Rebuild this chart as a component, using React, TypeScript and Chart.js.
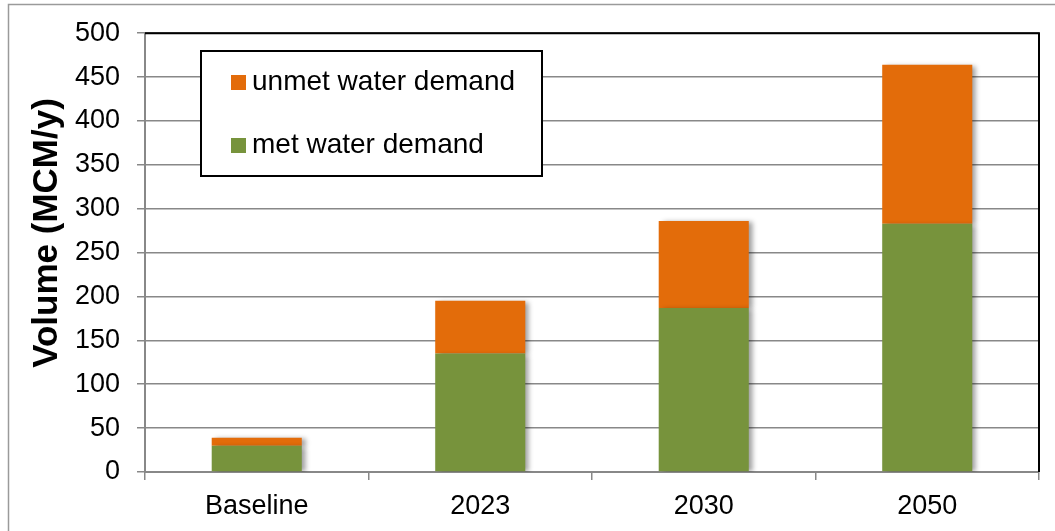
import React, { useEffect, useRef } from "react";
import { Chart, registerables } from "chart.js";

Chart.register(...registerables);

const categories = ["Baseline", "2023", "2030", "2050"];
const metDemand = [30, 135, 187, 283];
const unmetDemand = [9, 60, 99, 181];
const seriesNames = ["unmet water demand", "met water demand"];
const yAxisTitle = "Volume (MCM/y)";
const yTicksMax = 500;
const yTicksStep = 50;

const ORANGE = "#E36C0A";
const GREEN = "#77933C";
const GRID = "#888888";
const FONT = "'Liberation Sans', Arial, sans-serif";

const decorPlugin = {
  id: "decor",
  beforeDatasetsDraw(chart: any) {
    const ctx = chart.ctx;
    ctx.save();
    ctx.shadowColor = "rgba(0,0,0,0.38)";
    ctx.shadowBlur = 5;
    ctx.shadowOffsetX = 4;
    ctx.shadowOffsetY = 1;
  },
  afterDatasetsDraw(chart: any) {
    const ctx = chart.ctx;
    ctx.restore();
    const a = chart.chartArea;
    ctx.save();
    // black top/right frame of plot area
    ctx.strokeStyle = "#000";
    ctx.lineWidth = 2;
    ctx.beginPath();
    ctx.moveTo(a.left, a.top);
    ctx.lineTo(a.right, a.top);
    ctx.lineTo(a.right, a.bottom);
    ctx.stroke();
    // outer chart frame (top and left edges visible)
    ctx.strokeStyle = "#9a9a9a";
    ctx.lineWidth = 1.5;
    ctx.beginPath();
    ctx.moveTo(8.5, 531);
    ctx.lineTo(8.5, 4.5);
    ctx.lineTo(1055, 4.5);
    ctx.stroke();
    // y axis title
    ctx.save();
    ctx.translate(47, 233);
    ctx.rotate(-Math.PI / 2);
    ctx.font = `bold 35px ${FONT}`;
    ctx.fillStyle = "#000";
    ctx.textAlign = "center";
    ctx.textBaseline = "middle";
    ctx.fillText(yAxisTitle, 0, 0);
    ctx.restore();
    // legend box
    const lx = 201, ly = 51, lw = 341, lh = 125;
    ctx.fillStyle = "#fff";
    ctx.fillRect(lx, ly, lw, lh);
    ctx.strokeStyle = "#000";
    ctx.lineWidth = 2;
    ctx.strokeRect(lx, ly, lw, lh);
    const items = [
      { text: seriesNames[0], color: ORANGE, y: 90 },
      { text: seriesNames[1], color: GREEN, y: 153 },
    ];
    ctx.font = `28px ${FONT}`;
    ctx.textBaseline = "alphabetic";
    ctx.textAlign = "left";
    for (const it of items) {
      ctx.fillStyle = it.color;
      ctx.fillRect(231, it.y - 15, 15, 15);
      ctx.fillStyle = "#000";
      ctx.fillText(it.text, 252, it.y);
    }
    ctx.restore();
  },
};

export default function App() {
  const ref = useRef<HTMLCanvasElement | null>(null);
  useEffect(() => {
    if (!ref.current) return;
    const font = { family: FONT, size: 27 };
    const chart = new Chart(ref.current, {
      type: "bar",
      data: {
        labels: categories,
        datasets: [
          {
            label: seriesNames[1],
            data: metDemand,
            backgroundColor: GREEN,
            barPercentage: 0.403,
            categoryPercentage: 1,
          },
          {
            label: seriesNames[0],
            data: unmetDemand,
            backgroundColor: ORANGE,
            barPercentage: 0.403,
            categoryPercentage: 1,
          },
        ],
      },
      options: {
        animation: false,
        responsive: false,
        maintainAspectRatio: false,
        layout: { padding: { top: 32, right: 16, left: 0, bottom: 0 } },
        plugins: { legend: { display: false }, tooltip: { enabled: false } },
        scales: {
          x: {
            stacked: true,
            grid: {
              display: true,
              drawOnChartArea: false,
              drawTicks: true,
              tickLength: 8,
              color: GRID,
              lineWidth: 1.5,
              offset: true,
            },
            border: { color: GRID, width: 2 },
            ticks: { color: "#000", font, padding: 10 },
            afterFit(scale: any) {
              scale.height = 59;
            },
          },
          y: {
            stacked: true,
            min: 0,
            max: yTicksMax,
            grid: {
              color: GRID,
              lineWidth: 1.5,
              tickLength: 8,
            },
            border: { color: GRID, width: 2 },
            ticks: { color: "#000", font, padding: 17, stepSize: yTicksStep },
            title: { display: false },
            afterFit(scale: any) {
              scale.width = 145;
            },
          },
        },
      },
      plugins: [decorPlugin],
    } as any);
    return () => chart.destroy();
  }, []);
  return (
    <div style={{ position: "absolute", left: 0, top: 0, width: 1055, height: 531, background: "#fff" }}>
      <canvas ref={ref} width={1055} height={531} style={{ width: 1055, height: 531, display: "block" }} />
    </div>
  );
}
